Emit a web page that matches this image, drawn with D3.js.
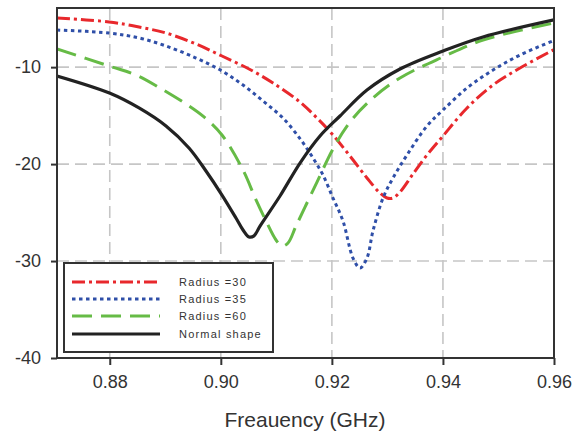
<!DOCTYPE html>
<html>
<head>
<meta charset="utf-8">
<script src="https://cdn.jsdelivr.net/npm/d3@7"></script>
<style>
  html, body { margin: 0; padding: 0; background: #fff; }
  svg { display: block; }
  text { font-family: "Liberation Sans", Arial, sans-serif; fill: #333; }
</style>
</head>
<body>
<svg id="chart" width="576" height="438"></svg>
<script>
// Return loss curves (dB) vs frequency (GHz)
const seriesNames = ["Radius =30", "Radius =35", "Radius =60", "Normal shape"];

const freqR30 = [0.8705, 0.87986, 0.88527, 0.89013, 0.89553, 0.90021, 0.90508, 0.9094, 0.91426, 0.91732, 0.9202, 0.92326, 0.92632, 0.92866, 0.92993, 0.93101, 0.93227, 0.93461, 0.93713, 0.94001, 0.94434, 0.94902, 0.95388, 0.96];
const valsR30 = [-4.93, -5.34, -5.86, -6.48, -7.61, -8.85, -10.19, -11.64, -13.6, -15.25, -17.0, -19.17, -21.43, -22.98, -23.5, -23.5, -22.88, -21.02, -19.06, -17.1, -14.21, -11.84, -10.09, -8.2];

const freqR35 = [0.8705, 0.87986, 0.88527, 0.89013, 0.89553, 0.90021, 0.90399, 0.90759, 0.91119, 0.91444, 0.9166, 0.9184, 0.9202, 0.922, 0.9238, 0.92506, 0.92632, 0.9274, 0.92921, 0.93101, 0.93353, 0.93713, 0.94001, 0.94434, 0.94902, 0.95388, 0.96];
const valsR35 = [-6.17, -6.48, -6.99, -7.82, -9.06, -10.4, -11.84, -13.49, -15.25, -17.52, -19.37, -21.13, -23.5, -25.87, -29.69, -30.72, -29.69, -26.9, -23.5, -21.43, -19.06, -16.07, -14.42, -12.15, -10.3, -8.75, -7.25];

const freqR60 = [0.8705, 0.87986, 0.88473, 0.88905, 0.89373, 0.89697, 0.90021, 0.90399, 0.90634, 0.90814, 0.90994, 0.91102, 0.9121, 0.91354, 0.91534, 0.91732, 0.9202, 0.92326, 0.9274, 0.93227, 0.94001, 0.94722, 0.96];
const valsR60 = [-8.13, -9.88, -10.81, -12.15, -13.8, -15.14, -17.0, -20.61, -23.7, -25.87, -27.83, -28.45, -28.14, -26.39, -24.22, -21.85, -18.44, -15.66, -13.18, -11.12, -8.95, -7.2, -5.45];

const freqNormal = [0.8705, 0.87995, 0.88527, 0.89013, 0.89427, 0.89733, 0.90021, 0.90273, 0.904, 0.90508, 0.90598, 0.90706, 0.91066, 0.91426, 0.91786, 0.92146, 0.92632, 0.93227, 0.94001, 0.94721, 0.96];
const valsNormal = [-10.91, -12.67, -14.21, -16.07, -18.34, -20.71, -23.19, -25.56, -26.8, -27.52, -27.4, -26.39, -23.29, -19.89, -17.1, -15.04, -12.36, -10.19, -8.34, -6.89, -5.13];

const xTicks = [0.88, 0.90, 0.92, 0.94, 0.96];
const yTicks = [-40, -30, -20, -10];
const xTitle = "Freauency (GHz)";

const styles = [
  { color: "#e8282c", dash: "13,4,3,4" },
  { color: "#2f4fa8", dash: "3.5,3.5" },
  { color: "#66bb46", dash: "20,9" },
  { color: "#222222", dash: null }
];

const data = [
  d3.zip(freqR30, valsR30),
  d3.zip(freqR35, valsR35),
  d3.zip(freqR60, valsR60),
  d3.zip(freqNormal, valsNormal)
];

const svg = d3.select("#chart");
const L = 57, R = 554, T = 8, B = 358;

const x = d3.scaleLinear().domain([0.8705, 0.96]).range([L, R]);
const y = d3.scaleLinear().domain([-40, -3.9]).range([B, T]);

// grid
const grid = svg.append("g").attr("stroke", "#c6c6c6").attr("stroke-width", 1.6)
  .attr("stroke-dasharray", "12,6");
grid.selectAll(".gx").data(xTicks.filter(t => t < 0.96)).join("line")
  .attr("x1", d => x(d)).attr("x2", d => x(d)).attr("y1", T).attr("y2", B);
grid.selectAll(".gy").data(yTicks.filter(t => t > -40)).join("line")
  .attr("x1", L).attr("x2", R).attr("y1", d => y(d)).attr("y2", d => y(d));

// curves
const line = d3.line().x(d => x(d[0])).y(d => y(d[1])).curve(d3.curveCatmullRom.alpha(0.5));
svg.append("clipPath").attr("id", "plotclip")
  .append("rect").attr("x", L).attr("y", T).attr("width", R - L).attr("height", B - T);
const curves = svg.append("g").attr("clip-path", "url(#plotclip)");
curves.selectAll("path").data(data).join("path")
  .attr("d", line)
  .attr("fill", "none")
  .attr("stroke", (d, i) => styles[i].color)
  .attr("stroke-width", (d, i) => i === 3 ? 3.2 : 3)
  .attr("stroke-dasharray", (d, i) => styles[i].dash);

// frame
svg.append("rect").attr("x", L).attr("y", T).attr("width", R - L).attr("height", B - T)
  .attr("fill", "none").attr("stroke", "#333").attr("stroke-width", 2);

// axes
const xAxis = svg.append("g").attr("transform", `translate(0,${B})`)
  .call(d3.axisBottom(x).tickValues(xTicks).tickFormat(d3.format(".2f")).tickSize(7).tickPadding(10));
const yAxis = svg.append("g").attr("transform", `translate(${L},0)`)
  .call(d3.axisLeft(y).tickValues(yTicks).tickFormat(d => String(d)).tickSize(6).tickPadding(10));
[xAxis, yAxis].forEach(g => {
  g.select(".domain").remove();
  g.selectAll(".tick line").attr("stroke", "#333").attr("stroke-width", 2);
  g.selectAll(".tick text").style("font-size", "18px").style("font-family", "Liberation Sans, Arial, sans-serif").attr("fill", "#333");
});

svg.append("text").attr("x", 305).attr("y", 427).attr("text-anchor", "middle")
  .style("font-size", "21px").text(xTitle);

// legend
const lg = svg.append("g");
lg.append("rect").attr("x", 64).attr("y", 263).attr("width", 209).attr("height", 89)
  .attr("fill", "#fff").attr("stroke", "#333").attr("stroke-width", 2);
const rowY = [282, 299, 316, 334];
seriesNames.forEach((name, i) => {
  lg.append("line").attr("x1", 72).attr("x2", 160).attr("y1", rowY[i]).attr("y2", rowY[i])
    .attr("stroke", styles[i].color).attr("stroke-width", 3)
    .attr("stroke-dasharray", styles[i].dash);
  lg.append("text").attr("x", 179).attr("y", rowY[i] + 4)
    .style("font-size", "11px").style("letter-spacing", "1.2px").text(name);
});
</script>
</body>
</html>
